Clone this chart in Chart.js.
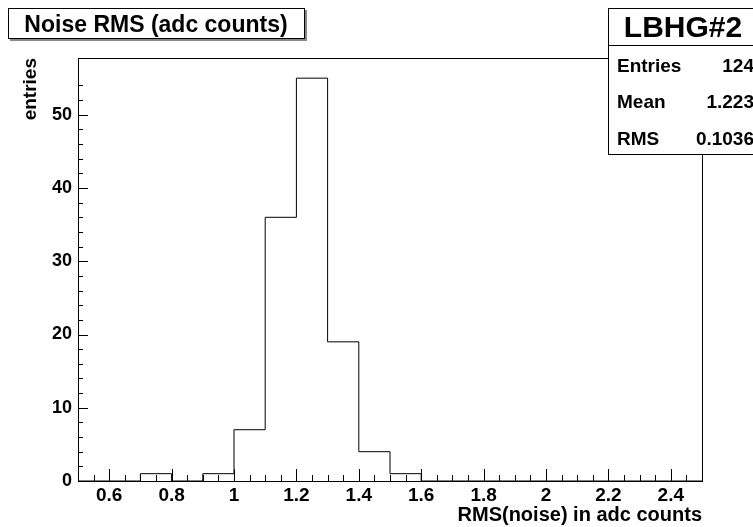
<!DOCTYPE html>
<html>
<head>
<meta charset="utf-8">
<script src="https://cdn.jsdelivr.net/npm/chart.js@4"></script>
<style>
  html, body { margin: 0; padding: 0; background: #fff; }
  canvas { display: block; }
</style>
</head>
<body>
<canvas id="hist" width="753" height="527"></canvas>
<script>
// bin edges and bin contents of the noise RMS histogram
const binEdges = [0.5, 0.6, 0.7, 0.8, 0.9, 1.0, 1.1, 1.2, 1.3, 1.4, 1.5,
                  1.6, 1.7, 1.8, 1.9, 2.0, 2.1, 2.2, 2.3, 2.4, 2.5]
const entries = [0, 0, 1, 0, 1, 7, 36, 55, 19, 4, 1,
                 0, 0, 0, 0, 0, 0, 0, 0, 0]
const xTickLabels = ['0.6', '0.8', '1', '1.2', '1.4', '1.6', '1.8', '2', '2.2', '2.4']
const yTickLabels = ['0', '10', '20', '30', '40', '50']
const histTitle = 'Noise RMS (adc counts)'
const statsName = 'LBHG#2'
const statsRows = [['Entries', '124'], ['Mean', '1.223'], ['RMS', '0.1036']]

const FONT = "'Liberation Sans', Arial, Helvetica, sans-serif"

// stepped outline: one point per left bin edge, last one closes at the upper edge
let outline = []
for (let i = 0; i < entries.length; i++) {
    outline.push({x: binEdges[i], y: entries[i]})
}
outline.push({x: binEdges[binEdges.length - 1], y: 0})

function labelFor(list, value) {
    let hit = list.find(l => Math.abs(parseFloat(l) - value) < 1e-6)
    return hit === undefined ? '' : hit
}

function isMajor(value, step) {
    let r = value / step
    return Math.abs(r - Math.round(r)) < 1e-6
}

// frame, inward tick marks, title pave and stats box
const rootPad = {
    id: 'rootPad',
    afterDraw(chart) {
        const ctx = chart.ctx
        const {left, right, top, bottom} = chart.chartArea
        const xs = chart.scales.x
        const ys = chart.scales.y
        ctx.save()
        ctx.strokeStyle = '#000'
        ctx.lineWidth = 1
        ctx.strokeRect(left + 0.5, top + 0.5, right - left, bottom - top)

        ctx.beginPath()
        xs.ticks.forEach(t => {
            if (t.value <= xs.min + 1e-6 || t.value >= xs.max - 1e-6) return
            let px = Math.round(xs.getPixelForValue(t.value)) + 0.5
            let len = isMajor(t.value, 0.2) ? 12 : 6
            ctx.moveTo(px, bottom)
            ctx.lineTo(px, bottom - len)
        })
        ys.ticks.forEach(t => {
            if (!Number.isInteger(t.value) || t.value <= 0) return
            let py = Math.round(ys.getPixelForValue(t.value)) + 0.5
            let len = t.value % 10 === 0 ? 10 : 5
            ctx.moveTo(left, py)
            ctx.lineTo(left + len, py)
        })
        ctx.stroke()

        // title pave with shadow
        ctx.fillStyle = '#888'
        ctx.fillRect(10, 10, 297, 31)
        ctx.fillStyle = '#fff'
        ctx.fillRect(8, 8, 297, 31)
        ctx.strokeRect(8.5, 8.5, 296, 30)
        ctx.fillStyle = '#000'
        ctx.font = 'bold 23px ' + FONT
        ctx.textAlign = 'center'
        ctx.textBaseline = 'alphabetic'
        ctx.fillText(histTitle, 156, 32)

        // stats box
        ctx.fillStyle = '#fff'
        ctx.fillRect(608, 8, 160, 147)
        ctx.strokeRect(608.5, 8.5, 160, 146)
        ctx.beginPath()
        ctx.moveTo(608, 45.5)
        ctx.lineTo(753, 45.5)
        ctx.stroke()
        ctx.fillStyle = '#000'
        ctx.font = 'bold 30px ' + FONT
        ctx.textAlign = 'center'
        ctx.fillText(statsName, 683, 37)
        ctx.font = 'bold 19px ' + FONT
        const rowBase = [72, 108, 145]
        statsRows.forEach((row, i) => {
            ctx.textAlign = 'left'
            ctx.fillText(row[0], 617, rowBase[i])
            ctx.textAlign = 'right'
            ctx.fillText(row[1], 754, rowBase[i])
        })
        ctx.restore()
    }
}

new Chart(document.getElementById('hist'), {
    type: 'line',
    data: {
        datasets: [{
            data: outline,
            stepped: true,
            borderColor: '#000',
            borderWidth: 1,
            pointRadius: 0,
            fill: false,
            clip: false
        }]
    },
    options: {
        responsive: false,
        animation: false,
        devicePixelRatio: 1,
        layout: {padding: {top: 58, right: 51, left: 0, bottom: 0}},
        plugins: {legend: {display: false}, tooltip: {enabled: false}},
        scales: {
            x: {
                type: 'linear',
                min: 0.5,
                max: 2.5,
                grid: {display: false, drawTicks: false},
                border: {display: false},
                ticks: {
                    stepSize: 0.05,
                    autoSkip: false,
                    maxRotation: 0,
                    padding: 3,
                    color: '#000',
                    font: {family: FONT, size: 19, weight: 'bold'},
                    callback: v => labelFor(xTickLabels, v)
                },
                title: {
                    display: true,
                    text: 'RMS(noise) in adc counts',
                    align: 'end',
                    color: '#000',
                    font: {family: FONT, size: 20, weight: 'bold'},
                    padding: {top: 0, bottom: 0}
                },
                afterFit: s => { s.height = 46 }
            },
            y: {
                min: 0,
                max: 57.75,
                grid: {display: false, drawTicks: false},
                border: {display: false},
                ticks: {
                    stepSize: 2,
                    autoSkip: false,
                    padding: 6,
                    color: '#000',
                    font: {family: FONT, size: 18, weight: 'bold'},
                    callback: v => labelFor(yTickLabels, v)
                },
                title: {
                    display: true,
                    text: 'entries',
                    align: 'end',
                    color: '#000',
                    font: {family: FONT, size: 19, weight: 'bold'},
                    padding: {top: 19, bottom: 0}
                },
                afterFit: s => { s.width = 78 }
            }
        }
    },
    plugins: [rootPad]
})
</script>
</body>
</html>
